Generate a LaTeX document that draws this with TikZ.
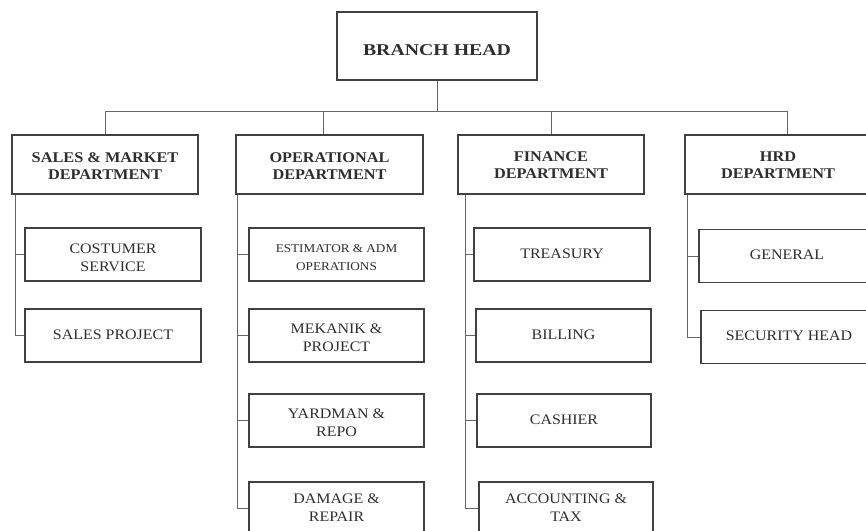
\documentclass[tikz,border=0pt]{standalone}
\usepackage{fontspec}
\setmainfont{Liberation Serif}
\newcommand\stx[2]{\scalebox{#1}[1]{\begin{tabular}{@{}c@{}}#2\end{tabular}}}
\newcommand\dn[2]{\raisebox{-#1}[\dimexpr\height+#1\relax][\dimexpr\depth-#1\relax]{#2}}
\tikzset{
  box/.style={draw=black!75, line width=1.3pt, rectangle, inner sep=0pt, text=black!82, align=center},
  headbox/.style={box, font=\fontsize{16.5}{18}\selectfont\bfseries},
  deptbox/.style={box, minimum width=186pt, minimum height=59pt, font=\fontsize{14.8}{17}\selectfont\bfseries},
  subbox/.style={box, minimum width=176pt, minimum height=53pt, font=\fontsize{14.5}{18}\selectfont},
  link/.style={draw=black!60, line width=1pt}
}
\begin{document}
\begin{tikzpicture}[x=1pt,y=-1pt]
\useasboundingbox (0,0) rectangle (866,530);
\clip (0,0) rectangle (866,530);
\node[headbox, minimum width=200pt, minimum height=68pt] (bh) at (437,46) {\dn{3pt}{\stx{1.2}{BRANCH HEAD}}};
\node[deptbox] (sales) at (105,164.5) {\dn{1.5pt}{\stx{1.1}{SALES \& MARKET\\DEPARTMENT}}};
\node[deptbox, minimum width=187pt] (ops) at (329.5,164.5) {\dn{1.5pt}{\stx{1.1}{OPERATIONAL\\DEPARTMENT}}};
\node[deptbox] (fin) at (551,164.5) {\dn{1pt}{\stx{1.1}{FINANCE\\DEPARTMENT}}};
\node[deptbox] (hrd) at (778,164.5) {\dn{1pt}{\stx{1.1}{HRD\\DEPARTMENT}}};
% sales children
\node[subbox] (cs) at (113,254.5) {\dn{2pt}{\stx{1.1}{COSTUMER\\SERVICE}}};
\node[subbox] (sp) at (113,335.5) {\stx{1.1}{SALES PROJECT}};
% ops children
\node[subbox, minimum width=175pt] (est) at (336.5,254.5) {\dn{1.5pt}{\stx{1.1}{\fontsize{12}{14}\selectfont ESTIMATOR \& ADM\\\fontsize{12}{14}\selectfont OPERATIONS}}};
\node[subbox, minimum width=175pt] (mek) at (336.5,335.5) {\dn{1.5pt}{\stx{1.1}{MEKANIK \&\\PROJECT}}};
\node[subbox, minimum width=175pt] (yard) at (336.5,420.5) {\dn{1.5pt}{\stx{1.1}{YARDMAN \&\\REPO}}};
\node[subbox, minimum width=175pt] (dmg) at (336.5,508.5) {\stx{1.1}{DAMAGE \&\\REPAIR}};
% finance children
\node[subbox] (tre) at (562,254.5) {\stx{1.1}{TREASURY}};
\node[subbox, minimum width=175pt] (bil) at (563.5,335.5) {\stx{1.1}{BILLING}};
\node[subbox, minimum width=174pt] (cas) at (564,420.5) {\stx{1.1}{CASHIER}};
\node[subbox, minimum width=174pt] (acc) at (566,508.5) {\stx{1.1}{ACCOUNTING \&\\TAX}};
% hrd children
\node[subbox] (gen) at (787,256) {\stx{1.1}{GENERAL}};
\node[subbox] (sec) at (789,337) {\stx{1.1}{SECURITY HEAD}};
% top connectors
\coordinate (j) at (437,111);
\draw[link] (bh.south) -- (j);
\draw[link] (sales.north |- j) -- ([xshift=9pt]hrd.north |- j);
\draw[link] (sales.north |- j) -- (sales.north);
\draw[link] ([xshift=-6.5pt]ops.north |- j) -- ([xshift=-6.5pt]ops.north);
\draw[link] (fin.north |- j) -- (fin.north);
\draw[link] ([xshift=9pt]hrd.north |- j) -- ([xshift=9pt]hrd.north);
% buses
\draw[link] ([xshift=4pt]sales.south west) |- (cs.west);
\draw[link] ([xshift=4pt]sales.south west) |- (sp.west);
\draw[link] ([xshift=2pt]ops.south west) |- (est.west);
\draw[link] ([xshift=2pt]ops.south west) |- (mek.west);
\draw[link] ([xshift=2pt]ops.south west) |- (yard.west);
\draw[link] ([xshift=2pt]ops.south west) |- (dmg.west);
\draw[link] ([xshift=8pt]fin.south west) |- (tre.west);
\draw[link] ([xshift=8pt]fin.south west) |- (bil.west);
\draw[link] ([xshift=8pt]fin.south west) |- (cas.west);
\draw[link] ([xshift=8pt]fin.south west) |- (acc.west);
\draw[link] ([xshift=3pt]hrd.south west) |- (gen.west);
\draw[link] ([xshift=3pt]hrd.south west) |- (sec.west);
\end{tikzpicture}
\end{document}
